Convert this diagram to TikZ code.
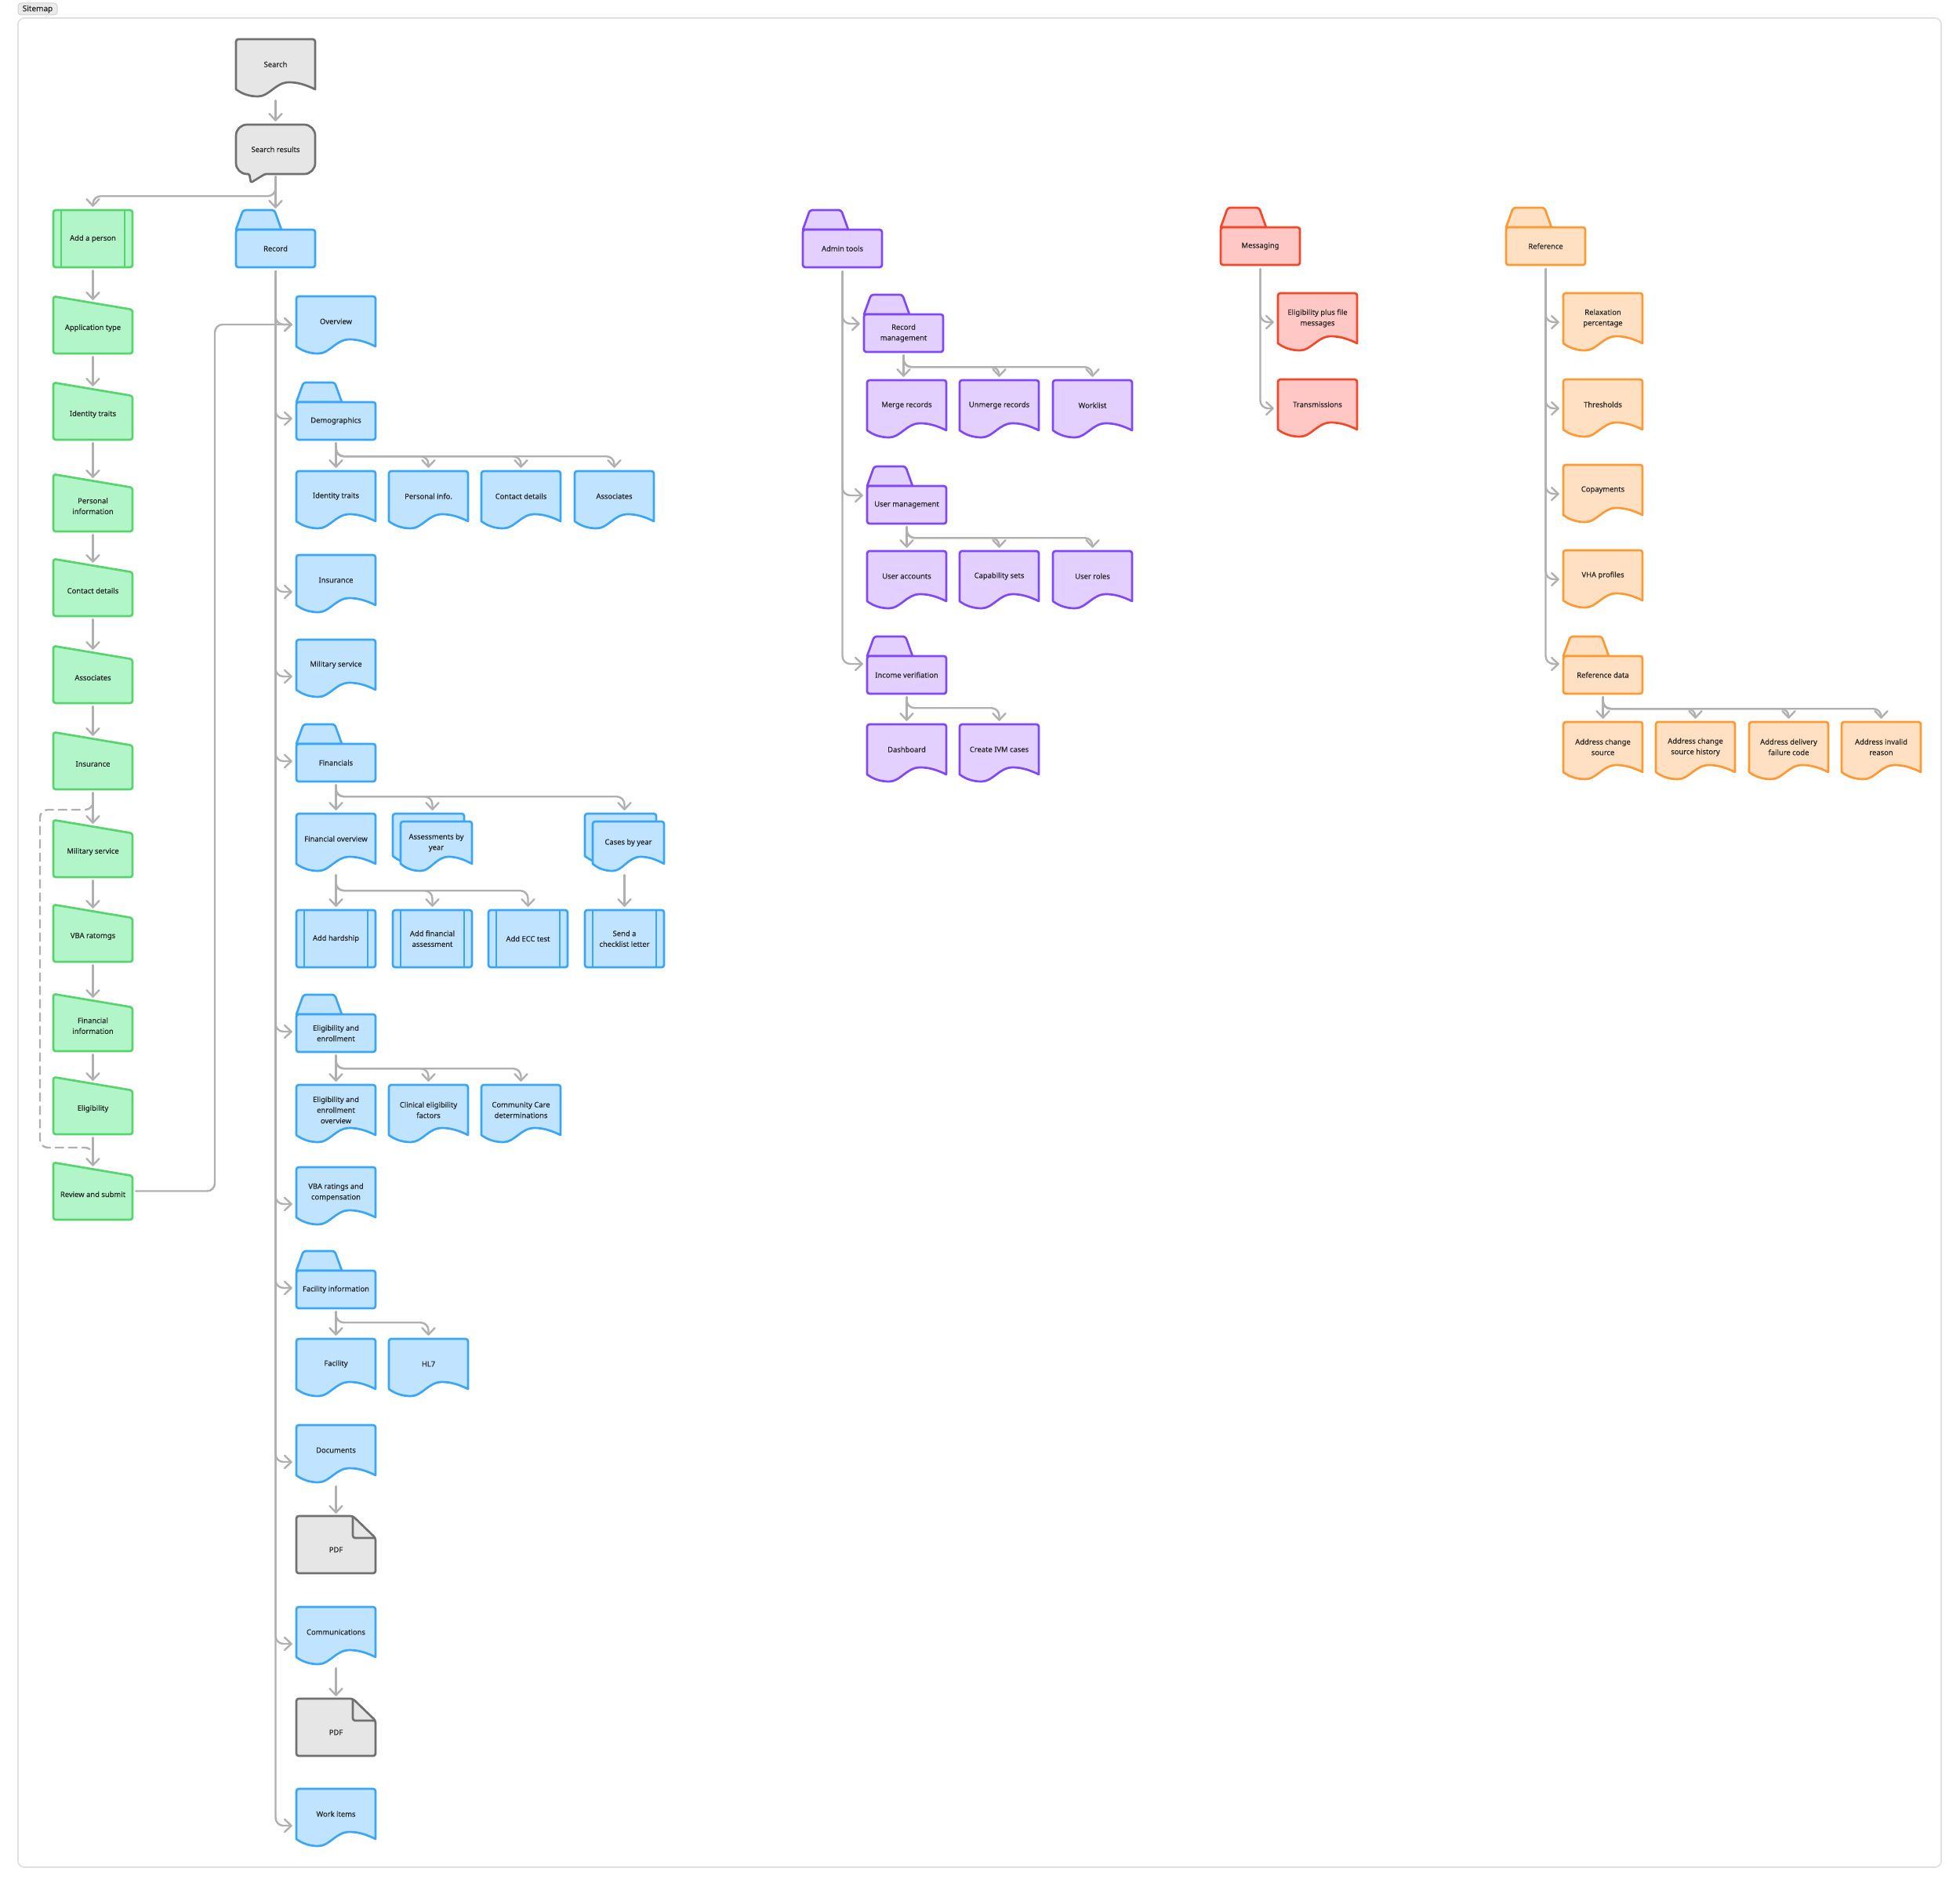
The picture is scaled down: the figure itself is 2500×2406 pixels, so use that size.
\documentclass[tikz,border=0pt]{standalone}
\usepackage{fontspec}
\setmainfont{Noto Sans}
\newfontfamily\lblfont{Noto Sans}[FakeBold=0.35]
\usetikzlibrary{arrows.meta,calc}
\definecolor{grayF}{HTML}{E6E6E6}
\definecolor{grayS}{HTML}{707070}
\definecolor{greenF}{HTML}{B2F5C8}
\definecolor{greenS}{HTML}{58D46E}
\definecolor{blueF}{HTML}{C0E4FF}
\definecolor{blueS}{HTML}{3AA6FA}
\definecolor{purpF}{HTML}{E3D0FF}
\definecolor{purpS}{HTML}{8048FA}
\definecolor{redF}{HTML}{FFC8C4}
\definecolor{redS}{HTML}{F44828}
\definecolor{oranF}{HTML}{FFE0C2}
\definecolor{oranS}{HTML}{FF9933}
\definecolor{connC}{HTML}{B0B0B0}
\definecolor{txtC}{HTML}{262626}
\definecolor{frameC}{HTML}{E0E0E0}
\pgfdeclarelayer{shapelayer}
\pgfsetlayers{shapelayer,main}
\tikzset{
  gry/.style={fill=grayF,draw=grayS},
  grn/.style={fill=greenF,draw=greenS},
  blu/.style={fill=blueF,draw=blueS},
  prp/.style={fill=purpF,draw=purpS},
  rdd/.style={fill=redF,draw=redS},
  org/.style={fill=oranF,draw=oranS},
  nodeline/.style={line width=2.7pt,line join=round},
  lbl/.style={inner sep=0pt,align=center,text=txtC,font=\lblfont\fontsize{9.4}{13.6}\selectfont},
  conn/.style={draw=connC,line width=2.4pt,line cap=round,rounded corners=10pt,
    -{Straight Barb[length=8.5pt,width=16pt,line cap=round,line join=round]}},
}
\newcommand\DocShape[5]{%
  \path[nodeline,#5] ({#1},{#2+#4}) [rounded corners=3pt] -- ({#1},{#2}) -- ({#1+#3},{#2}) [sharp corners] -- ({#1+#3},{#2+#4})
    .. controls ({#1+0.88*#3},{#2+#4-6}) and ({#1+0.78*#3},{#2+#4-9}) .. ({#1+0.67*#3},{#2+#4-9})
    .. controls ({#1+0.5*#3},{#2+#4-9}) and ({#1+0.42*#3},{#2+#4+9}) .. ({#1+0.28*#3},{#2+#4+9})
    .. controls ({#1+0.17*#3},{#2+#4+9}) and ({#1+0.08*#3},{#2+#4+6}) .. ({#1},{#2+#4}) -- cycle;}
\newcommand\Doc[5]{%
  \begin{pgfonlayer}{shapelayer}\DocShape{#2}{#3}{101}{64}{#4}\end{pgfonlayer}
  \node[lbl,minimum width=101pt,minimum height=64pt] (#1) at ({#2+50.5},{#3+32}) {#5};}
\newcommand\Stack[5]{%
  \begin{pgfonlayer}{shapelayer}
  \DocShape{#2}{#3}{91}{54}{#4}
  \DocShape{#2+10}{#3+10}{91}{54}{#4}
  \end{pgfonlayer}
  \node[lbl,minimum width=91pt,minimum height=54pt] (#1) at ({#2+55.5},{#3+37}) {#5};}
\newcommand\Folder[5]{%
  \begin{pgfonlayer}{shapelayer}
  \path[nodeline,#4] ({#2},{#3+25}) [rounded corners=3pt] -- ({#2+9},{#3}) -- ({#2+49},{#3}) [sharp corners] -- ({#2+58},{#3+25}) -- cycle;
  \path[nodeline,#4,rounded corners=3pt] ({#2},{#3+25}) rectangle ({#2+101},{#3+73});
  \end{pgfonlayer}
  \node[lbl,minimum width=101pt,minimum height=48pt] (#1) at ({#2+50.5},{#3+49}) {#5};}
\newcommand\Manual[4]{%
  \begin{pgfonlayer}{shapelayer}
  \path[nodeline,grn,rounded corners=3pt] ({#2},{#3+40}) -- ({#2},{#3}) -- ({#2+101},{#3+17}) -- ({#2+101},{#3+73}) -- ({#2},{#3+73}) -- cycle;
  \end{pgfonlayer}
  \node[lbl,minimum width=101pt,minimum height=65pt] (#1) at ({#2+50.5},{#3+40.5}) {#4};}
\newcommand\Pred[5]{%
  \begin{pgfonlayer}{shapelayer}
  \path[nodeline,#4,rounded corners=3pt] ({#2},{#3}) rectangle ({#2+101},{#3+73});
  \path[nodeline,#4,fill=none] ({#2+10},{#3}) -- ({#2+10},{#3+73}) ({#2+91},{#3}) -- ({#2+91},{#3+73});
  \end{pgfonlayer}
  \node[lbl,minimum width=101pt,minimum height=73pt] (#1) at ({#2+50.5},{#3+36.5}) {#5};}
\newcommand\Note[3]{%
  \begin{pgfonlayer}{shapelayer}
  \path[nodeline,gry,rounded corners=3pt] ({#2},{#3+40}) -- ({#2},{#3}) -- ({#2+72},{#3}) -- ({#2+101},{#3+28}) -- ({#2+101},{#3+73}) -- ({#2},{#3+73}) -- cycle;
  \path[nodeline,draw=grayS,rounded corners=3pt] ({#2+72},{#3}) -- ({#2+72},{#3+28}) -- ({#2+101},{#3+28});
  \end{pgfonlayer}
  \node[lbl,minimum width=101pt,minimum height=60pt] (#1) at ({#2+50.5},{#3+43}) {PDF};}
\newcommand\Branch[3]{%
  \draw[conn] ($(#1.south)+(0,4)$) -- ++(0,#3) -| ($(#2.north)+(0,-4)$);}
\newcommand\Down[2]{%
  \draw[conn] ($(#1.south)+(0,4)$) -- ($(#2.north)+(0,-4)$);}
\newcommand\Side[3]{%
  \draw[conn] ($(#1.south)+(0,5)$) |- ($(#2.west)+(-5,#3)$);}
\begin{document}
\begin{tikzpicture}[x=1pt,y=-1pt]
\useasboundingbox (0,0) rectangle (2500,2406);
\begin{pgfonlayer}{shapelayer}
\path[fill=white,draw=frameC,line width=1.6pt,rounded corners=8pt] (23,23) rectangle (2476,2382);
\path[fill=grayF!80!white,draw=black!18,line width=1pt,rounded corners=4pt] (23,4) rectangle (73,19);
\end{pgfonlayer}
\node[inner sep=0pt,text=black!85,font=\lblfont\fontsize{10}{11}\selectfont] (tag) at (48,11.8) {Sitemap};

% ---------- gray top ----------
\Doc{srch}{301}{50}{gry}{Search}
\begin{pgfonlayer}{shapelayer}
\path[nodeline,gry] (338,222) [rounded corners=14pt] -- (402,222) -- (402,159) -- (301,159) -- (301,222) [rounded corners=1.5pt] -- (318,222) -- (320,233) -- cycle;
\end{pgfonlayer}
\node[lbl,minimum width=101pt,minimum height=63pt] (sres) at (351.5,190.5) {Search results};

% ---------- green column ----------
\Pred{add}{68}{268}{grn}{Add a person}
\Manual{app}{68}{378}{Application type}
\Manual{git}{68}{488}{Identity traits}
\Manual{gpi}{68}{605}{Personal\\information}
\Manual{gcd}{68}{713}{Contact details}
\Manual{gas}{68}{824}{Associates}
\Manual{gin}{68}{934}{Insurance}
\Manual{gms}{68}{1046}{Military service}
\Manual{gvb}{68}{1154}{VBA ratomgs}
\Manual{gfi}{68}{1268}{Financial\\information}
\Manual{gel}{68}{1374}{Eligibility}
\Manual{rev}{68}{1483}{Review and submit}

% ---------- blue column ----------
\Folder{rec}{301}{268}{blu}{Record}
\Doc{ovw}{378}{378}{blu}{Overview}
\Folder{dem}{378}{488}{blu}{Demographics}
\Doc{dit}{378}{601}{blu}{Identity traits}
\Doc{dpi}{496}{601}{blu}{Personal info.}
\Doc{dcd}{614}{601}{blu}{Contact details}
\Doc{das}{733}{601}{blu}{Associates}
\Doc{ins}{378}{708}{blu}{Insurance}
\Doc{mil}{378}{816}{blu}{Military service}
\Folder{fin}{378}{924}{blu}{Financials}
\Doc{fov}{378}{1038}{blu}{Financial overview}
\Stack{asm}{501}{1038}{blu}{Assessments by\\year}
\Stack{cby}{746}{1038}{blu}{Cases by year}
\Pred{ahs}{378}{1161}{blu}{Add hardship}
\Pred{afa}{501}{1161}{blu}{Add financial\\assessment}
\Pred{aec}{623}{1161}{blu}{Add ECC test}
\Pred{scl}{746}{1161}{blu}{Send a\\checklist letter}
\Folder{ee}{378}{1269}{blu}{Eligibility and\\enrollment}
\Doc{eeo}{378}{1384}{blu}{Eligibility and\\enrollment\\overview}
\Doc{cef}{496}{1384}{blu}{Clinical eligibility\\factors}
\Doc{ccd}{614}{1384}{blu}{Community Care\\determinations}
\Doc{vba}{378}{1489}{blu}{VBA ratings and\\compensation}
\Folder{fac}{378}{1596}{blu}{Facility information}
\Doc{fcl}{378}{1708}{blu}{Facility}
\Doc{hl7}{496}{1708}{blu}{HL7}
\Doc{docs}{378}{1818}{blu}{Documents}
\Note{pdfa}{378}{1934}
\Doc{com}{378}{2050}{blu}{Communications}
\Note{pdfb}{378}{2167}
\Doc{wrk}{378}{2282}{blu}{Work items}

% ---------- purple column ----------
\Folder{adm}{1024}{268}{prp}{Admin tools}
\Folder{rmg}{1102}{376}{prp}{Record\\management}
\Doc{mrg}{1106}{485}{prp}{Merge records}
\Doc{umr}{1224}{485}{prp}{Unmerge records}
\Doc{wkl}{1343}{485}{prp}{Worklist}
\Folder{umg}{1106}{595}{prp}{User management}
\Doc{uac}{1106}{703}{prp}{User accounts}
\Doc{cap}{1224}{703}{prp}{Capability sets}
\Doc{url}{1343}{703}{prp}{User roles}
\Folder{ivf}{1106}{812}{prp}{Income verifiation}
\Doc{dsh}{1106}{924}{prp}{Dashboard}
\Doc{ivm}{1224}{924}{prp}{Create IVM cases}

% ---------- red column ----------
\Folder{msg}{1557}{265}{rdd}{Messaging}
\Doc{epf}{1630}{374}{rdd}{Eligibility plus file\\messages}
\Doc{trn}{1630}{484}{rdd}{Transmissions}

% ---------- orange column ----------
\Folder{ref}{1921}{265}{org}{Reference}
\Doc{rlx}{1994}{374}{org}{Relaxation\\percentage}
\Doc{thr}{1994}{484}{org}{Thresholds}
\Doc{cop}{1994}{593}{org}{Copayments}
\Doc{vha}{1994}{702}{org}{VHA profiles}
\Folder{rfd}{1994}{812}{org}{Reference data}
\Doc{acs}{1994}{921}{org}{Address change\\source}
\Doc{ach}{2112}{921}{org}{Address change\\source history}
\Doc{adf}{2231}{921}{org}{Address delivery\\failure code}
\Doc{air}{2349}{921}{org}{Address invalid\\reason}

% ================= connectors =================
\draw[conn] ($(srch.south)+(0,14)$) -- ($(sres.north)+(0,-4)$);
\draw[conn] ($(sres.south)+(0,3)$) -- ++(0,25) -| ($(add.north)+(0,-4)$);
\draw[conn] ($(sres.south)+(0,3)$) -- ($(rec.north)+(0,-27)$);

% green chain
\foreach \a/\b in {add/app,app/git,git/gpi,gpi/gcd,gcd/gas,gas/gin,gin/gms,gms/gvb,gvb/gfi,gfi/gel,gel/rev}
  \draw[conn] ($(\a.south)+(0,4)$) -- ($(\b.north)+(0,-3)$);
\coordinate (dla) at (51,1033);
\coordinate (dlb) at (51,1464);
\draw[conn,-,dash pattern=on 10pt off 7pt] ($(gin.south)+(0,4)$) |- (dla) -- (dlb) -| ($(rev.north)+(0,-3)$);
\coordinate (ovin) at ($(ovw.west)+(-5,4)$);
\coordinate (fbx) at (274,0);
\draw[conn] ($(rev.east)+(4,-4)$) -| (fbx |- ovin) -- (ovin);

% record trunk
\Side{rec}{ovw}{4}
\Side{rec}{dem}{-3}
\Side{rec}{ins}{15}
\Side{rec}{mil}{15}
\Side{rec}{fin}{-2}
\Side{rec}{ee}{-2}
\Side{rec}{vba}{15}
\Side{rec}{fac}{-2}
\Side{rec}{docs}{15}
\Side{rec}{com}{15}
\Side{rec}{wrk}{15}

\Down{dem}{dit}
\Branch{dem}{dpi}{17}
\Branch{dem}{dcd}{17}
\Branch{dem}{das}{17}

\Down{fin}{fov}
\draw[conn] ($(fin.south)+(0,4)$) -- ++(0,15) -| ($(asm.north)+(-5,-14)$);
\draw[conn] ($(fin.south)+(0,4)$) -- ++(0,15) -| ($(cby.north)+(-5,-14)$);

\draw[conn] ($(fov.south)+(0,14)$) -- ($(ahs.north)+(0,-4)$);
\draw[conn] ($(fov.south)+(0,14)$) -- ++(0,20) -| ($(afa.north)+(0,-4)$);
\draw[conn] ($(fov.south)+(0,14)$) -- ++(0,20) -| ($(aec.north)+(0,-4)$);
\draw[conn] ($(cby.south)+(-5,14)$) -- ($(scl.north)+(0,-4)$);

\Down{ee}{eeo}
\Branch{ee}{cef}{17}
\Branch{ee}{ccd}{17}

\Down{fac}{fcl}
\Branch{fac}{hl7}{14}

\draw[conn] ($(docs.south)+(0,14)$) -- ($(pdfa.north)+(0,-16)$);
\draw[conn] ($(com.south)+(0,14)$) -- ($(pdfb.north)+(0,-16)$);

% admin
\Side{adm}{rmg}{-12}
\Side{adm}{umg}{-12}
\Side{adm}{ivf}{-14}
\draw[conn] ($(rmg.south)+(0,4)$) -- ($(rmg.south |- mrg.north)+(0,-4)$);
\Branch{rmg}{umr}{15}
\Branch{rmg}{wkl}{15}
\Down{umg}{uac}
\Branch{umg}{cap}{14}
\Branch{umg}{url}{14}
\Down{ivf}{dsh}
\Branch{ivf}{ivm}{14}

% messaging
\Side{msg}{epf}{5}
\Side{msg}{trn}{5}

% reference
\Side{ref}{rlx}{5}
\Side{ref}{thr}{5}
\Side{ref}{cop}{5}
\Side{ref}{vha}{5}
\Side{ref}{rfd}{-14}
\Down{rfd}{acs}
\Branch{rfd}{ach}{15}
\Branch{rfd}{adf}{15}
\Branch{rfd}{air}{15}
\end{tikzpicture}
\end{document}
